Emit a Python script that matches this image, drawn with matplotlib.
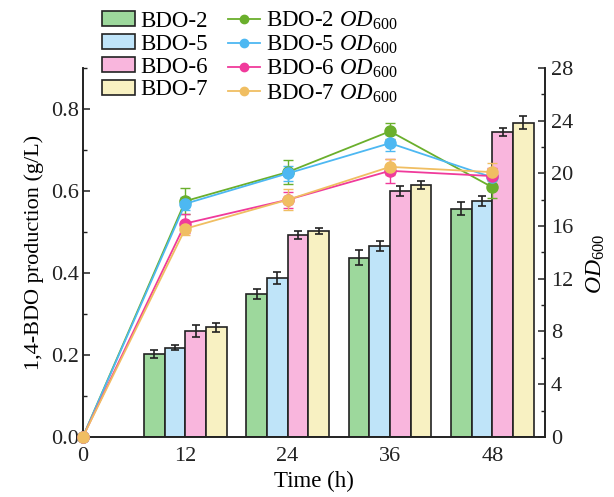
import matplotlib
matplotlib.use("Agg")
import matplotlib.pyplot as plt
import numpy as np
from matplotlib.ticker import MultipleLocator
from matplotlib.lines import Line2D
from matplotlib.patches import Patch

plt.rcParams['font.family'] = ['Liberation Serif', 'DejaVu Serif']
plt.rcParams['mathtext.fontset'] = 'custom'
plt.rcParams['mathtext.rm'] = 'Liberation Serif'
plt.rcParams['mathtext.it'] = 'Liberation Serif:italic'

strains = ['BDO-2', 'BDO-5', 'BDO-6', 'BDO-7']
bar_times = [12, 24, 36, 48]
line_times = [0, 12, 24, 36, 48]

bdo = {
    'BDO-2': [0.203, 0.348, 0.437, 0.557],
    'BDO-5': [0.218, 0.388, 0.466, 0.576],
    'BDO-6': [0.258, 0.492, 0.600, 0.745],
    'BDO-7': [0.267, 0.502, 0.615, 0.767],
}
bdo_err = {
    'BDO-2': [0.010, 0.012, 0.018, 0.015],
    'BDO-5': [0.005, 0.014, 0.012, 0.012],
    'BDO-6': [0.015, 0.010, 0.013, 0.010],
    'BDO-7': [0.010, 0.008, 0.010, 0.015],
}
od = {
    'BDO-2': [0.0, 17.9, 20.1, 23.2, 18.95],
    'BDO-5': [0.0, 17.7, 20.0, 22.3, 19.7],
    'BDO-6': [0.0, 16.2, 18.0, 20.2, 19.8],
    'BDO-7': [0.0, 15.8, 18.0, 20.5, 20.1],
}
od_err = {
    'BDO-2': [0.0, 1.0, 0.9, 0.6, 0.8],
    'BDO-5': [0.0, 0.5, 0.6, 0.6, 0.6],
    'BDO-6': [0.0, 0.7, 0.6, 0.9, 0.6],
    'BDO-7': [0.0, 0.5, 0.8, 0.6, 0.7],
}

bar_colors = ['#9DD89C', '#BFE4F9', '#F9B6DD', '#F8F1C2']
line_colors = ['#6AAF2C', '#4DB8F2', '#F03A9B', '#F0BE62']

fig = plt.figure(figsize=(6.14, 4.97), dpi=100)
ax = fig.add_axes([0.135, 0.121, 0.753, 0.742])
ax2 = ax.twinx()

w = 2.43
bt = np.array(bar_times, dtype=float)
for i, s in enumerate(strains):
    ax.bar(bt + (i - 1.5) * w, bdo[s], width=w, color=bar_colors[i],
           edgecolor='#222222', linewidth=1.2, yerr=bdo_err[s],
           error_kw=dict(ecolor='#222222', elinewidth=1.2, capsize=3, capthick=1.2),
           zorder=2)

for i, s in enumerate(strains):
    ax2.errorbar(line_times, od[s], yerr=od_err[s], color=line_colors[i],
                 marker='o', markersize=8, linewidth=1.3, capsize=3.5,
                 elinewidth=1.0, capthick=1.0, zorder=3, clip_on=False)

ax.set_xlim(0, 54.2)
ax.set_ylim(0, 0.9)
ax2.set_ylim(0, 28)
ax.set_xticks([0, 12, 24, 36, 48])
ax.yaxis.set_minor_locator(MultipleLocator(0.1))
ax2.yaxis.set_major_locator(MultipleLocator(4))
ax2.yaxis.set_minor_locator(MultipleLocator(2))
ax.set_yticks([0, 0.2, 0.4, 0.6, 0.8])
ax.set_yticklabels(['0.0', '0.2', '0.4', '0.6', '0.8'])

fs = 16
for a in (ax, ax2):
    a.spines['top'].set_visible(False)
    for sp in a.spines.values():
        sp.set_linewidth(1.2)
        sp.set_color('#222222')
    a.tick_params(which='major', direction='in', length=5, width=1.1,
                  labelsize=fs, colors='#222222', labelcolor='#222222')
    a.tick_params(which='minor', direction='in', length=3, width=1.0,
                  colors='#222222')
ax.tick_params(axis='x', which='major', length=0, pad=7)
ax.tick_params(axis='y', pad=3)
ax2.tick_params(axis='y', pad=4)

ax.set_xlabel('Time (h)', fontsize=fs + 0.5, labelpad=4)
ax.set_ylabel('1,4-BDO production (g/L)', fontsize=fs, labelpad=5)
ax2.set_ylabel(r'$\mathit{OD}_{\mathrm{600}}$', fontsize=fs + 1)
ax2.yaxis.set_label_coords(1.085, 0.47)

ax.set_zorder(1)
ax2.set_zorder(2)
ax.patch.set_visible(False)

handles = []
labels = []
for i, s in enumerate(strains):
    handles.append(Patch(facecolor=bar_colors[i], edgecolor='#222222', linewidth=1.2))
    labels.append(s)
for i, s in enumerate(strains):
    handles.append(Line2D([0], [0], color=line_colors[i], marker='o', markersize=6, linewidth=1.3))
    labels.append(s + r' $\mathit{OD}_{\mathrm{600}}$')

fig.legend(handles, labels, ncol=2, loc='upper left', bbox_to_anchor=(0.137, 1.017),
           frameon=False, fontsize=fs + 0.5, handlelength=1.4, handleheight=0.65,
           handletextpad=0.25, columnspacing=0.9, labelspacing=0.08, borderpad=0.3)

fig.savefig('out.png', dpi=100)
